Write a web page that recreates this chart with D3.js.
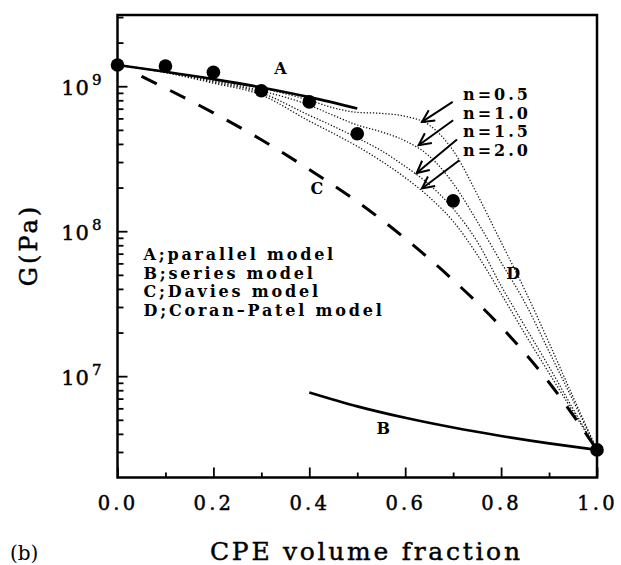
<!DOCTYPE html>
<html>
<head>
<meta charset="utf-8">
<script src="https://cdn.jsdelivr.net/npm/d3@7"></script>
<style>
body { margin: 0; background: #fff; }
svg { display: block; }
text { font-family: "DejaVu Serif", serif; fill: #000; }
</style>
</head>
<body>
<svg id="chart"></svg>
<script>
// ---- data ----
// A: parallel model
const phiA = [0, 0.1, 0.2, 0.3, 0.4, 0.5];
const gA = [1.40e9, 1.26e9, 1.12e9, 9.81e8, 8.41e8, 7.02e8];

// B: series model
const phiB = [0.4, 0.5, 0.6, 0.7, 0.8, 0.9, 1.0];
const gB = [7.72e6, 6.19e6, 5.16e6, 4.42e6, 3.87e6, 3.44e6, 3.1e6];

// C: Davies model (dashed)
const phiC = [0.05, 0.1, 0.2, 0.3, 0.4, 0.5, 0.6, 0.7, 0.8, 0.9, 1.0];
const gC = [1.17e9, 9.7e8, 6.55e8, 4.27e8, 2.66e8, 1.60e8, 8.9e7, 4.6e7, 2.19e7, 9.05e6, 3.1e6];

// D: Coran-Patel model, one dotted curve per n
const phiD = [0, 0.1, 0.2, 0.3, 0.4, 0.45, 0.5, 0.55, 0.6, 0.65, 0.7, 0.75, 0.8, 0.85, 0.9, 0.95, 1.0];
const gD05 = [1.40e9, 1.26e9, 1.11e9, 9.7e8, 8.0e8, 7.1e8, 6.6e8, 6.5e8, 6.2e8, 5.4e8, 3.6e8, 1.8e8, 8.4e7, 3.9e7, 1.7e7, 7.2e6, 3.1e6];
const gD10 = [1.40e9, 1.255e9, 1.09e9, 9.3e8, 7.4e8, 6.3e8, 5.4e8, 4.85e8, 4.2e8, 3.3e8, 2.14e8, 1.17e8, 6.1e7, 3.2e7, 1.48e7, 6.8e6, 3.1e6];
const gD15 = [1.40e9, 1.25e9, 1.07e9, 9.0e8, 6.3e8, 5.3e8, 4.4e8, 3.6e8, 2.8e8, 2.1e8, 1.43e8, 8.5e7, 4.2e7, 2.2e7, 1.16e7, 5.96e6, 3.1e6];
const gD20 = [1.40e9, 1.24e9, 1.05e9, 8.7e8, 5.75e8, 4.73e8, 3.85e8, 3.05e8, 2.34e8, 1.72e8, 1.17e8, 6.9e7, 3.7e7, 1.95e7, 1.05e7, 5.7e6, 3.1e6];

// measured points
const dotPhi = [0, 0.1, 0.2, 0.3, 0.4, 0.5, 0.7, 1.0];
const dotG = [1.40e9, 1.38e9, 1.25e9, 9.3e8, 7.8e8, 4.7e8, 1.62e8, 3.1e6];

// arrows pointing at the n curves (data units)
const nLabels = ["n=0.5", "n=1.0", "n=1.5", "n=2.0"];
const arrowFrom = [[0.699, 7.8e8], [0.700, 5.83e8], [0.708, 4.29e8], [0.713, 3.09e8]];
const arrowTo = [[0.635, 5.67e8], [0.628, 3.92e8], [0.624, 2.52e8], [0.635, 1.97e8]];

// curve letters (data units)
const curveLetters = ["A", "B", "C", "D"];
const letterPos = [[0.34, 1.21e9], [0.554, 3.98e6], [0.416, 1.8e8], [0.825, 4.67e7]];

const legendLines = ["A;parallel model", "B;series model", "C;Davies model", "D;Coran\u2013Patel model"];

const xMajor = [0, 0.2, 0.4, 0.6, 0.8, 1.0];
const xMinor = [0.1, 0.3, 0.5, 0.7, 0.9];
const yMajor = [1e7, 1e8, 1e9];
const yExp = ["7", "8", "9"];

// ---- layout ----
const W = 621, H = 565;
const margin = {top: 15, right: 24, bottom: 87.5, left: 117.5};
const width = W - margin.left - margin.right;
const height = H - margin.top - margin.bottom;

const svg = d3.select("#chart").attr("width", W).attr("height", H);
svg.append("rect").attr("width", W).attr("height", H).attr("fill", "#fff");

const g = svg.append("g")
    .attr("transform", "translate(" + margin.left + "," + margin.top + ")");

const x = d3.scaleLinear().domain([0, 1]).range([0, width]);
const y = d3.scaleLog().domain([2e6, 3.1e9]).range([height, 0]);

const zip = (a, b) => a.map((v, i) => [v, b[i]]);
const line = d3.line()
    .x(d => x(d[0]))
    .y(d => y(d[1]))
    .curve(d3.curveMonotoneX);

// minor y ticks: 2..9 in each decade inside the domain
const yMinor = [];
[1e6, 1e7, 1e8, 1e9].forEach(dec => {
    for (let k = 2; k <= 9; k++) {
        const v = k * dec;
        if (v > y.domain()[0] && v <= y.domain()[1]) yMinor.push(v);
    }
});

// x axis (ticks inside)
const xAx = g.append("g")
    .attr("transform", "translate(0," + height + ")")
    .call(d3.axisBottom(x).tickValues(xMajor).tickSize(-10).tickFormat(d3.format(".1f")));
xAx.selectAll("text")
    .attr("y", 32.5).attr("dy", 0)
    .attr("font-size", 19.5).attr("letter-spacing", 3.2)
    .attr("font-family", "DejaVu Serif")
    .attr("stroke", "#000").attr("stroke-width", 0.45);
g.append("g")
    .attr("transform", "translate(0," + height + ")")
    .call(d3.axisBottom(x).tickValues(xMinor).tickSize(-5).tickFormat(""));

// y axis (ticks inside)
g.append("g")
    .call(d3.axisLeft(y).tickValues(yMajor).tickSize(-10).tickFormat(""));
g.append("g")
    .call(d3.axisLeft(y).tickValues(yMinor).tickSize(-6).tickFormat(""));

g.selectAll(".domain").remove();
g.selectAll(".tick line").attr("stroke", "#000").attr("stroke-width", 1.8);

// y tick labels 10^n
const yLab = g.append("g").selectAll("text")
    .data(yMajor)
    .join("text")
    .attr("x", -15)
    .attr("y", d => y(d) + 8.5)
    .attr("text-anchor", "end")
    .attr("font-size", 21)
    .attr("letter-spacing", 1)
    .attr("stroke", "#000").attr("stroke-width", 0.45);
yLab.append("tspan").text("10");
yLab.append("tspan")
    .attr("dy", -10)
    .attr("dx", 2)
    .attr("font-size", 15)
    .text((d, i) => yExp[i]);

// frame
g.append("rect")
    .attr("width", width).attr("height", height)
    .attr("fill", "none").attr("stroke", "#000").attr("stroke-width", 2.5);

// D curves (dotted)
[gD05, gD10, gD15, gD20].forEach(arr => {
    g.append("path")
        .datum(zip(phiD, arr))
        .attr("d", line)
        .attr("fill", "none")
        .attr("stroke", "#111")
        .attr("stroke-width", 1.25)
        .attr("stroke-dasharray", "1.3,1.8");
});

// C dashed
g.append("path")
    .datum(zip(phiC, gC))
    .attr("d", line)
    .attr("fill", "none")
    .attr("stroke", "#000")
    .attr("stroke-width", 3)
    .attr("stroke-dasharray", "17,15");

// A and B solid
[[phiA, gA], [phiB, gB]].forEach(([p, v]) => {
    g.append("path")
        .datum(zip(p, v))
        .attr("d", line)
        .attr("fill", "none")
        .attr("stroke", "#000")
        .attr("stroke-width", 2.6);
});

// points
g.selectAll(".dot")
    .data(zip(dotPhi, dotG))
    .join("circle")
    .attr("class", "dot")
    .attr("cx", d => x(d[0]))
    .attr("cy", d => y(d[1]))
    .attr("r", 6.8)
    .attr("fill", "#000");

// arrows
svg.append("defs").append("marker")
    .attr("id", "head")
    .attr("viewBox", "-14 -8 16 16")
    .attr("refX", 0).attr("refY", 0)
    .attr("markerWidth", 16).attr("markerHeight", 16)
    .attr("markerUnits", "userSpaceOnUse")
    .attr("orient", "auto")
    .append("path")
    .attr("d", "M-12,-6 L0,0 L-12,6")
    .attr("fill", "none")
    .attr("stroke", "#000")
    .attr("stroke-width", 2);

g.selectAll(".arrow")
    .data(arrowFrom)
    .join("line")
    .attr("class", "arrow")
    .attr("x1", d => x(d[0])).attr("y1", d => y(d[1]))
    .attr("x2", (d, i) => x(arrowTo[i][0])).attr("y2", (d, i) => y(arrowTo[i][1]))
    .attr("stroke", "#000")
    .attr("stroke-width", 2)
    .attr("marker-end", "url(#head)");

// n labels
g.selectAll(".nlab")
    .data(nLabels)
    .join("text")
    .attr("class", "nlab")
    .attr("x", 463 - margin.left)
    .attr("y", (d, i) => 100 - margin.top + i * 18.5)
    .attr("font-size", 16)
    .attr("font-weight", "bold")
    .attr("letter-spacing", 3)
    .text(d => d);

// curve letters
g.selectAll(".letter")
    .data(curveLetters)
    .join("text")
    .attr("class", "letter")
    .attr("x", (d, i) => x(letterPos[i][0]))
    .attr("y", (d, i) => y(letterPos[i][1]))
    .attr("text-anchor", "middle")
    .attr("font-size", 16)
    .attr("font-weight", "bold")
    .text(d => d);

// legend text
g.selectAll(".legend")
    .data(legendLines)
    .join("text")
    .attr("class", "legend")
    .attr("x", 143.5 - margin.left)
    .attr("y", (d, i) => 260 - margin.top + i * 18.6)
    .attr("font-size", 16)
    .attr("font-weight", "bold")
    .attr("letter-spacing", 2.8)
    .text(d => d);

// axis titles
svg.append("text")
    .attr("x", 210).attr("y", 560)
    .attr("font-size", 25)
    .attr("textLength", 310)
    .attr("lengthAdjust", "spacing")
    .attr("stroke", "#000").attr("stroke-width", 0.45)
    .text("CPE volume fraction");

svg.append("text")
    .attr("transform", "translate(37,245) rotate(-90)")
    .attr("text-anchor", "middle")
    .attr("font-size", 24)
    .attr("letter-spacing", 3)
    .attr("stroke", "#000").attr("stroke-width", 0.5)
    .text("G(Pa)");

svg.append("text")
    .attr("x", 10).attr("y", 560)
    .attr("font-size", 20)
    .text("(b)");
</script>
</body>
</html>
